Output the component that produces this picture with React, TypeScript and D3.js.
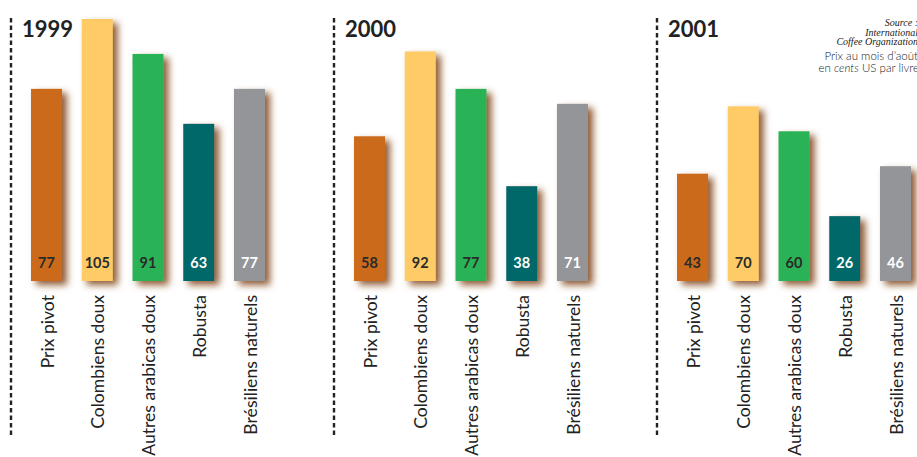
import React from "react";
import * as d3 from "d3";

const years = ["1999", "2000", "2001"];
const categories = ["Prix pivot", "Colombiens doux", "Autres arabicas doux", "Robusta", "Brésiliens naturels"];
const values1999 = [77, 105, 91, 63, 77];
const values2000 = [58, 92, 77, 38, 71];
const values2001 = [43, 70, 60, 26, 46];
const seriesByYear = [values1999, values2000, values2001];
const barColors = ["#CC6B1A", "#FECB66", "#2BB357", "#006767", "#939598"];
const labelColors = ["#2a2a2a", "#2a2a2a", "#2a2a2a", "#ffffff", "#ffffff"];
const sourceLines = ["Source :", "International", "Coffee Organization"];

const W = 917;
const H = 457;

export default function App() {
  const panelX = d3.scalePoint<string>().domain(years).range([0, 646]);
  const x = d3.scaleBand<string>().domain(categories).range([31, 265]).paddingInner(0.389).paddingOuter(0);
  const y = d3.scaleLinear().domain([0, 105]).range([281, 19]);
  const sans = "Lato, 'Open Sans', 'Noto Sans', sans-serif";

  return (
    <svg width={W} height={H} style={{ position: "absolute", left: 0, top: 0, background: "#fff" }}>
      <defs>
        <filter id="sh" x="-50%" y="-20%" width="220%" height="150%">
          <feGaussianBlur in="SourceAlpha" stdDeviation="3.6" result="b" />
          <feOffset in="b" dx="5" dy="4" result="o" />
          <feFlood floodColor="#7d3f12" floodOpacity="0.85" />
          <feComposite in2="o" operator="in" result="s" />
          <feMerge>
            <feMergeNode in="s" />
            <feMergeNode in="SourceGraphic" />
          </feMerge>
        </filter>
      </defs>
      {years.map((yr, yi) => {
        const ox = panelX(yr)!;
        const vals = seriesByYear[yi];
        return (
          <g key={yr} transform={`translate(${ox},0)`}>
            <line x1={11} x2={11} y1={18} y2={437} stroke="#222" strokeWidth={2.4} strokeDasharray="4.5,3" />
            <text x={22} y={37} fontFamily={sans} fontWeight={700} fontSize={22} fill="#222">{yr}</text>
            {categories.map((c, i) => (
              <rect key={c} x={x(c)} y={y(vals[i])} width={x.bandwidth()} height={y(0) - y(vals[i])} fill={barColors[i]} filter="url(#sh)" />
            ))}
            {categories.map((c, i) => (
              <text key={c + "v"} x={x(c)! + x.bandwidth() / 2} y={268} textAnchor="middle" fontFamily={sans} fontWeight={700} fontSize={14.5} fill={labelColors[i]}>{vals[i]}</text>
            ))}
            {categories.map((c) => (
              <text key={c + "l"} transform={`translate(${x(c)! + x.bandwidth() / 2 + 1},295) rotate(-90)`} textAnchor="end" dy="0.35em" fontFamily={sans} fontWeight={400} fontSize={17.6} fill="#222">{c}</text>
            ))}
          </g>
        );
      })}
      <g fontFamily="'Liberation Serif', 'DejaVu Serif', serif" fontStyle="italic" fontSize={10} fill="#222" textAnchor="end">
        {sourceLines.map((s, i) => (
          <text key={s} x={918} y={26 + i * 9.5}>{s}</text>
        ))}
      </g>
      <g fontFamily={sans} fontWeight={300} fontSize={11.5} fill="#222" textAnchor="end">
        <text x={918} y={60}>Prix au mois d’août</text>
        <text x={919} y={72}>en <tspan fontStyle="italic">cents</tspan> US par livre</text>
      </g>
    </svg>
  );
}
